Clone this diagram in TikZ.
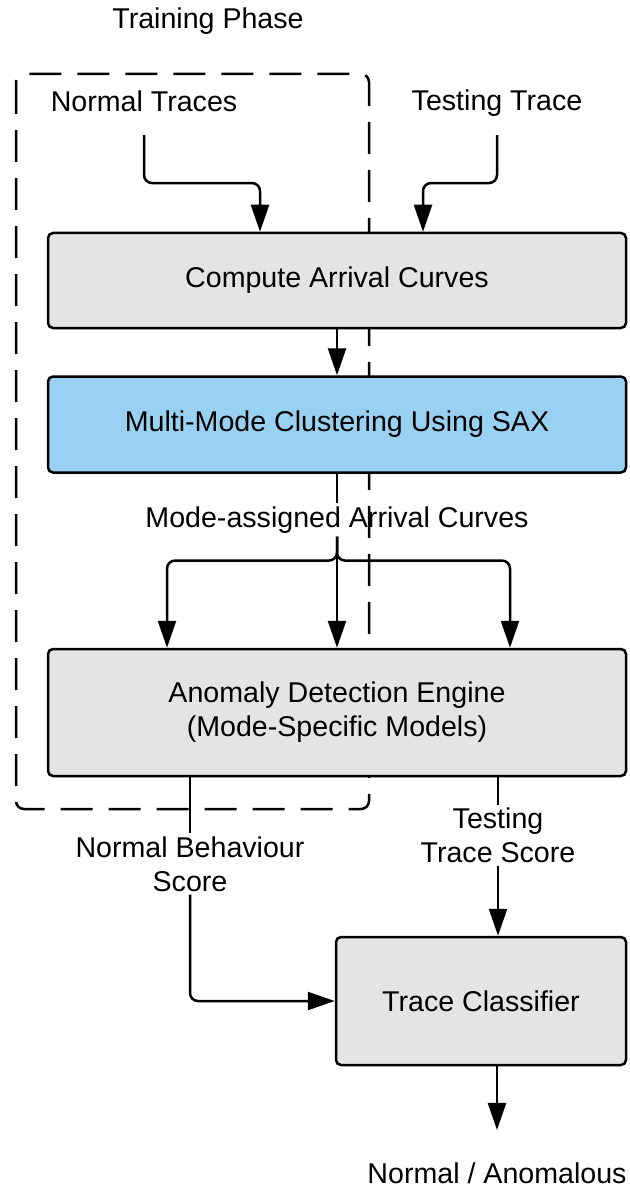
\documentclass[tikz,border=0pt]{standalone}
\usepackage{fontspec}
\setmainfont{Liberation Sans}
\usetikzlibrary{arrows.meta}
\definecolor{boxgray}{RGB}{228,228,228}
\definecolor{boxblue}{RGB}{153,209,242}
\begin{document}
\begin{tikzpicture}[x=1pt,y=-1pt,
  font=\fontsize{28.6}{34}\selectfont,
  box/.style={draw=black, line width=2.5pt, rounded corners=5pt, fill=boxgray, inner sep=0pt, align=center},
  lbl/.style={inner sep=3pt, align=center},
  conn/.style={line width=2.5pt, -{Triangle[length=27pt,width=18pt]}, rounded corners=8pt},
  plainline/.style={line width=2.5pt, rounded corners=8pt},
  phase/.style={draw, line width=2.5pt, dash pattern=on 32pt off 16pt, rounded corners=8pt}]
\useasboundingbox (0,0) rectangle (629,1190);
\draw[phase] (16,74) rectangle (369,809);

\node[box, minimum width=578pt, minimum height=95pt] (cac) at (337,280.5) {Compute Arrival Curves};
\node[box, fill=boxblue, minimum width=578pt, minimum height=96pt] (mm) at (337,424.5) {Multi-Mode Clustering Using SAX};
\node[box, minimum width=578pt, minimum height=127pt] (ade) at (337,712.5) {Anomaly Detection Engine\\(Mode-Specific Models)};
\node[box, minimum width=290pt, minimum height=128pt] (tc) at (481,1001) {Trace Classifier};

\node (tp) at (208,21) {Training Phase};
\node (nt) at (144,101) {Normal Traces};
\node (tt) at (497,103) {Testing Trace};
\node[lbl] (mac) at (337,520) {Mode-assigned Arrival Curves};
\node[lbl] (nbs) at (190,864) {Normal Behaviour\\Score};
\node[lbl] (tts) at (498,835.5) {Testing\\Trace Score};
\node (out) at (497,1173) {Normal / Anomalous};

\draw[conn] ([yshift=-20pt]nt.south) -- ++(0,48) -| ([xshift=-77pt]cac.north);
\draw[conn] (tt.south |- nt.south) ++(0,20) -- ++(0,48) -| ([xshift=86pt]cac.north);
\draw[conn] (cac) -- (mm);
\draw[plainline] (mm.south) -- (mac.north);
\draw[conn] (mac.south) -- (ade.north);
\draw[conn] (mac.south) -- ++(0,24) -| ([xshift=-170pt]ade.north);
\draw[conn] (mac.south) -- ++(0,24) -| ([xshift=173pt]ade.north);
\draw[plainline] (nbs.north |- ade.south) -- (nbs.north);
\draw[conn] (nbs.south) |- (tc.west);
\draw[plainline] (tts.north |- ade.south) -- (tts.north);
\draw[conn] (tts.south) -- (tts.south |- tc.north);
\draw[conn] (out.north |- tc.south) -- ([yshift=29pt]out.north);
\end{tikzpicture}
\end{document}
